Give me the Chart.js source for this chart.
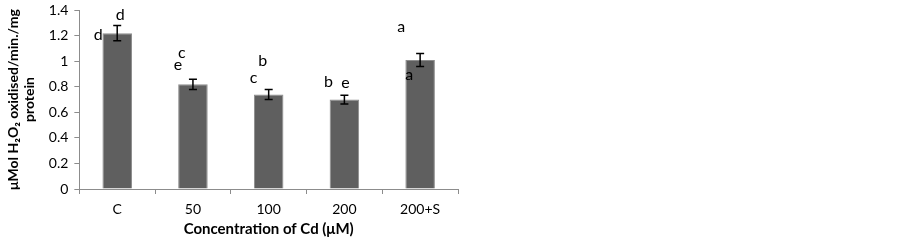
<!DOCTYPE html>
<html><head><meta charset="utf-8">
<script src="https://cdn.jsdelivr.net/npm/chart.js@4/dist/chart.umd.min.js"></script>
<style>html,body{margin:0;padding:0;background:#fff}#wrap{width:902px;height:244px}</style>
</head><body><div id="wrap"><canvas id="c" width="902" height="244"></canvas></div>
<script>
const categories = ['C', '50', '100', '200', '200+S'];
const values = [1.22, 0.82, 0.74, 0.70, 1.01];
const errors = [0.06, 0.04, 0.04, 0.035, 0.05];
const lettersTop = ['d', 'c', 'b', 'b', 'a'];
const lettersSide = ['d', 'e', 'c', 'e', 'a'];
const yTicks = [0, 0.2, 0.4, 0.6, 0.8, 1, 1.2, 1.4];

// letter placement: [dx px, y in data units]
const topPlace = [[3, 1.36], [-11, 1.07], [-6, 1.00], [-16, 0.84], [-19, 1.27]];
const sidePlace = [[-19, 1.21], [-15, 0.97], [-15, 0.87], [1, 0.83], [-11, 0.89]];

const FONT = 'Lato, "Open Sans", sans-serif';

const errPlugin = {
  id: 'errbars',
  afterDatasetsDraw(chart) {
    const ctx = chart.ctx, xs = chart.scales.x, ys = chart.scales.y;
    ctx.save();
    ctx.strokeStyle = '#000'; ctx.lineWidth = 1.5;
    values.forEach((v, i) => {
      const x = xs.getPixelForValue(i);
      const y1 = ys.getPixelForValue(v + errors[i]);
      const y2 = ys.getPixelForValue(v - errors[i]);
      ctx.beginPath();
      ctx.moveTo(x, y1); ctx.lineTo(x, y2);
      ctx.moveTo(x - 4, y1); ctx.lineTo(x + 4, y1);
      ctx.moveTo(x - 4, y2); ctx.lineTo(x + 4, y2);
      ctx.stroke();
    });
    ctx.fillStyle = '#000';
    ctx.font = '16px ' + FONT;
    ctx.textAlign = 'center'; ctx.textBaseline = 'middle';
    values.forEach((v, i) => {
      const x = xs.getPixelForValue(i);
      ctx.fillText(lettersTop[i], x + topPlace[i][0], ys.getPixelForValue(topPlace[i][1]));
      ctx.fillText(lettersSide[i], x + sidePlace[i][0], ys.getPixelForValue(sidePlace[i][1]));
    });
    ctx.restore();
  }
};

new Chart(document.getElementById('c'), {
  type: 'bar',
  data: {
    labels: categories,
    datasets: [{
      data: values,
      backgroundColor: '#5f5f5f',
      borderColor: '#8c8c8c',
      borderWidth: 1,
      categoryPercentage: 1,
      barPercentage: 0.39
    }]
  },
  options: {
    responsive: false,
    animation: false,
    devicePixelRatio: 1,
    layout: { padding: { left: 6, right: 444, top: 0, bottom: 7 } },
    plugins: { legend: { display: false }, tooltip: { enabled: false } },
    scales: {
      x: {
        grid: { display: true, offset: true, drawOnChartArea: false, drawTicks: true, tickLength: 5, color: '#8c8c8c' },
        border: { color: '#8c8c8c' },
        ticks: { color: '#000', font: { size: 14, family: FONT, lineHeight: 1 }, padding: 8 },
        title: { display: true, text: 'Concentration of Cd (μM)', color: '#000', font: { size: 15, weight: 'bold', family: FONT, lineHeight: 1 }, padding: { top: -2, bottom: 0 } }
      },
      y: {
        min: 0, max: 1.4,
        afterBuildTicks(s) { s.ticks = yTicks.map(v => ({ value: v })); },
        grid: { display: true, drawOnChartArea: false, drawTicks: true, tickLength: 5, color: '#8c8c8c' },
        border: { color: '#8c8c8c' },
        ticks: { color: '#000', font: { size: 14, family: FONT, lineHeight: 0.6 }, padding: 6, callback: v => String(+(+v).toFixed(1)) },
        title: { display: true, text: ['μMol H₂O₂ oxidised/min./mg', 'protein'], color: '#000', font: { size: 14, weight: 'bold', family: FONT, lineHeight: 1.1 }, padding: { top: 0, bottom: 6 } }
      }
    }
  },
  plugins: [errPlugin]
});
</script></body></html>
